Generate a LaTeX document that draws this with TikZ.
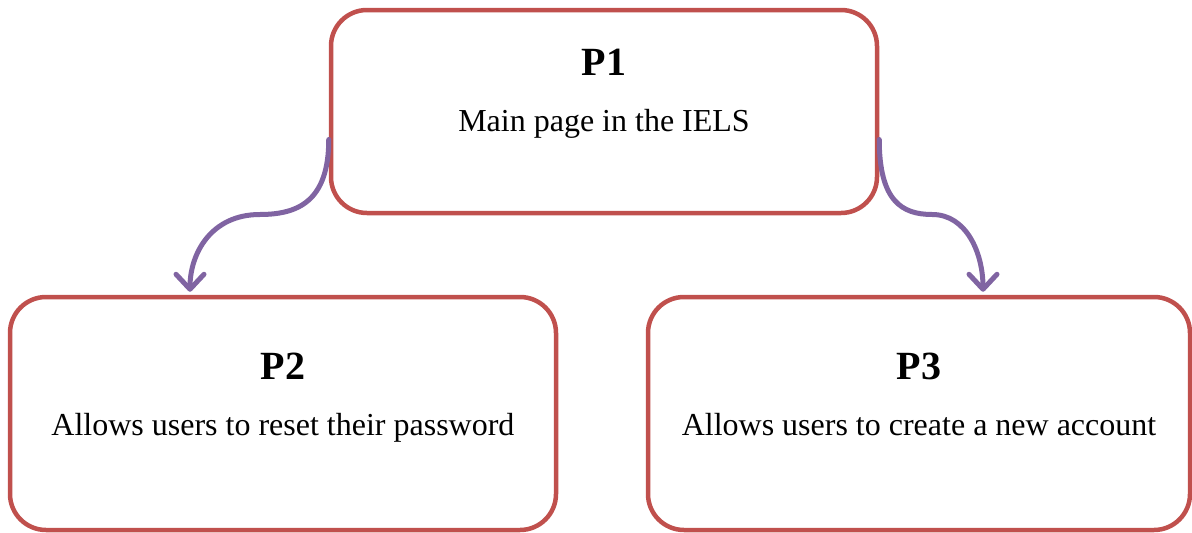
\documentclass[tikz,border=0pt]{standalone}
\usepackage{fontspec}
\setmainfont{Liberation Serif}
\usepackage{xcolor}
\usetikzlibrary{arrows.meta, positioning, calc}
\definecolor{colRed}{HTML}{C0504D}
\definecolor{colPurple}{HTML}{8064A2}
\tikzset{
  % Page boxes
  pbox/.style={
    draw=colRed, line width=4.5pt, rounded corners=36pt,
    fill=white, inner sep=0pt,
  },
  % Text inside a page box
  ptext/.style={
    align=center, inner sep=0pt,
    font=\fontsize{32}{56}\selectfont,
  },
  % Curved links
  link/.style={
    draw=colPurple, line width=5pt, line cap=round,
    -{Straight Barb[length=15pt,width=28pt,line cap=round,line join=round]},
  },
}

\begin{document}
\begin{tikzpicture}[x=1pt, y=1pt]

\useasboundingbox (0,0) rectangle (1192,-533);

%% top page
\node[pbox, minimum width=546pt, minimum height=203pt] (p1) at (604,-111.5) {};
\node[ptext, below=41pt of p1.north] (p1txt) {%
  {\fontsize{40}{48}\selectfont\bfseries P1}\\
  Main page in the IELS};

%% bottom pages
\node[pbox, minimum width=546pt, minimum height=233pt] (p2) at (283,-413.5) {};
\node[ptext, below=58pt of p2.north] (p2txt) {%
  {\fontsize{40}{48}\selectfont\bfseries P2}\\
  Allows users to reset their password};

\node[pbox, minimum width=542pt, minimum height=233pt] (p3) at (919,-413.5) {};
\node[ptext, below=58pt of p3.north] (p3txt) {%
  {\fontsize{40}{48}\selectfont\bfseries P3}\\
  Allows users to create a new account};

%% links
\draw[link, shorten >=3pt] ([yshift=-28pt]p1.west)
  .. controls +(0,-62) and +(38,0) .. ++(-69,-75)
  .. controls +(-48,0) and +(0,42) .. ([xshift=-93pt]p2.north);

\draw[link, shorten >=3pt] ([yshift=-28pt]p1.east)
  .. controls +(0,-62) and +(-30,0) .. ++(53,-75)
  .. controls +(34,0) and +(0,42) .. ([xshift=64pt]p3.north);

\end{tikzpicture}
\end{document}
